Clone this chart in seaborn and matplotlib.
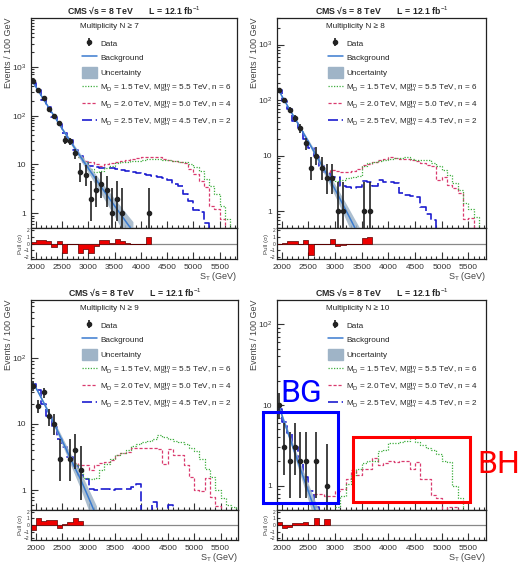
import numpy as np
import matplotlib
matplotlib.use("Agg")
import matplotlib.pyplot as plt
from matplotlib.lines import Line2D
from matplotlib.patches import Patch, Rectangle
from matplotlib.ticker import FixedLocator, FuncFormatter, MultipleLocator, LogLocator, NullFormatter
import seaborn as sns

sns.set_theme(style="ticks")
plt.rcParams["font.family"] = ["Liberation Sans", "DejaVu Sans"]
plt.rcParams["mathtext.fontset"] = "custom"
plt.rcParams["mathtext.rm"] = "Liberation Sans"
plt.rcParams["mathtext.it"] = "Liberation Sans:italic"
plt.rcParams["mathtext.bf"] = "Liberation Sans:bold"

# ---------------- data (100 GeV bins, values at bin centres) ----------------
# N >= 7
data7_x = [1950, 2050, 2150, 2250, 2350, 2450, 2550, 2650, 2750, 2850, 2950,
           3050, 3150, 3250, 3350, 3450, 3550, 3650, 4150]
data7_y = [520, 340, 225, 140, 97, 70, 32, 30, 17, 7, 6, 2, 3, 4, 3, 1, 2, 1, 1]
bkg7 = [480, 320, 215, 145, 98, 66, 45, 31, 21, 14.5, 10, 7, 4.9, 3.4, 2.4,
        1.7, 1.2, 0.85, 0.6, 0.43]
unc7 = [0.03, 0.03, 0.03, 0.04, 0.05, 0.06, 0.08, 0.1, 0.12, 0.15, 0.18, 0.21,
        0.25, 0.29, 0.33, 0.37, 0.42, 0.47, 0.52, 0.57]
pull7_x = [1950, 2050, 2150, 2250, 2350, 2450, 2550, 2650, 2750, 2850, 2950,
           3050, 3150, 3250, 3350, 3450, 3550, 3650, 3750, 3850, 3950, 4050,
           4150]
pull7 = [0.15, 0.45, 0.45, 0.3, -0.5, 0.3, -1.45, -0.05, -0.1, -1.35, -0.8,
         -1.35, -0.3, 0.45, 0.45, 0.1, 0.7, 0.3, 0.05, 0, 0, 0, 0.97]
green7 = (2850, [14.5, 11, 8, 7, 7.5, 8.5, 9.5, 10.5, 11, 11.5, 12, 12, 12.5, 13,
                 13, 13, 12.5, 12.5, 12, 11.5, 11, 10, 9, 7.5, 5, 3.6, 2.5, 1.4,
                 0.75, 0])
magenta7 = (2850, [14.5, 12, 11, 10, 9.5, 10, 10.5, 11.5, 12, 12.5, 13, 13.5,
                   14, 14.5, 14, 14, 13, 12.5, 12, 11.5, 10.5, 8, 6.5, 4.5, 3.5,
                   1.4, 1.2, 0.75, 0])
blue7 = (1950, [470, 330, 210, 150, 95, 68, 44, 32, 20, 15, 11, 9.5, 8.8, 8.5,
                8.3, 8.5, 8.0, 7.8, 7.5, 7.0, 6.7, 6.5, 6.2, 5.9, 5.6, 5.2, 4.9,
                4.0, 3.6, 2.5, 1.8, 1.15, 1.05, 0.62, 0.3, 0])

# N >= 8
data8_x = [1950, 2050, 2150, 2250, 2350, 2450, 2550, 2650, 2750, 2850, 2950,
           3050, 3150, 3550, 3650]
data8_y = [150, 100, 67, 47, 31, 17, 6, 10, 6, 4, 4, 1, 1, 1, 1]
bkg8 = [145, 98, 67, 46, 31.5, 21.5, 14.6, 9.9, 6.7, 4.5, 3.0, 2.0, 1.3, 0.85,
        0.55, 0.36]
unc8 = [0.03, 0.03, 0.04, 0.05, 0.06, 0.08, 0.1, 0.12, 0.15, 0.18, 0.22, 0.26,
        0.3, 0.35, 0.4, 0.45]
pull8_x = [1950, 2050, 2150, 2250, 2350, 2450, 2550, 2650, 2750, 2850, 2950,
           3050, 3150, 3250, 3350, 3450, 3550, 3650]
pull8 = [-0.1, 0.1, 0.3, 0.3, 0.0, 0.5, -1.7, -0.1, -0.1, -0.1, 0.6, -0.4,
         -0.2, 0, 0, 0, 0.8, 1.0]
green8 = (2950, [3.7, 3.5, 3.7, 3.9, 4.1, 4.3, 6.4, 7.3, 7.6, 7.9, 8.5, 8.8, 9,
                 9.2, 9.3, 8.8, 8.4, 8.4, 8.2, 7.3, 6.4, 5.6, 4.5, 3.2, 2.4,
                 1.4, 1.1, 0.8, 0])
magenta8 = (2850, [5.0, 5.5, 5.2, 5, 5, 5.3, 5.8, 6.8, 7.2, 7.8, 8.4, 8.7, 9.3,
                   9, 8.7, 8.6, 8.4, 8, 7.3, 6.8, 6.4, 3.7, 4.2, 3, 2.6, 2.1,
                   0.72, 0.75, 0])
blue8 = (1950, [150, 95, 68, 42, 32, 20, 14, 10, 6.5, 5, 4.2, 4.2, 2.8, 2.7,
                2.6, 2.7, 3.5, 3.4, 2.9, 3.6, 3.4, 3.3, 3.2, 2.1, 2.0, 1.9, 1.8,
                1.2, 0.9, 0.7, 0.45, 0])

# N >= 9
data9_x = [1950, 2050, 2150, 2250, 2350, 2450, 2650, 2750, 2850]
data9_y = [38, 19, 30, 13, 10, 3, 3, 4, 2]
bkg9 = [42, 30, 21, 14.5, 10, 6.8, 4.6, 3.1, 2.1, 1.45, 0.95, 0.62, 0.4]
unc9 = [0.04, 0.05, 0.06, 0.08, 0.1, 0.12, 0.15, 0.19, 0.23, 0.28, 0.33, 0.38,
        0.44]
pull9_x = [1950, 2050, 2150, 2250, 2350, 2450, 2550, 2650, 2750, 2850]
pull9 = [-0.8, 1.0, 0.6, 0.8, 0.8, -0.5, 0.1, 0.4, 1.1, 0.6]
green9 = (2750, [2.5, 2.1, 1.5, 1.45, 1.5, 2.0, 2.5, 3.0, 3.4, 3.7, 4.0, 4.7,
                 5.0, 5.3, 5.6, 6.0, 6.7, 6.3, 6.0, 5.6, 5.3, 4.9, 4.4, 3.9,
                 3.0, 2.1, 1.6, 1.0, 0.75, 0.6, 0.55, 0])
magenta9 = (2750, [2.6, 2.4, 2.4, 2.0, 2.4, 2.6, 2.7, 2.9, 3.4, 3.6, 3.8, 4.3,
                   4.3, 4.3, 4.4, 4.3, 4.2, 2.5, 4.2, 3.4, 3.4, 2.4, 1.6, 1.0,
                   0.96, 1.5, 0.78, 0.57, 0.4, 0])
blue9 = (1950, [40, 33, 20, 13, 9, 6, 4.5, 3.2, 2.3, 1.7, 1.45, 1.05, 1.0,
                1.05, 1.05, 1.0, 1.05, 1.05, 1.05, 1.1, 1.25, 0.3, 0.3, 0.65,
                0.3, 0.3, 0.6, 0])

# N >= 10
data10_x = [1950, 2050, 2150, 2250, 2350, 2450, 2650, 2850]
data10_y = [10, 3, 2, 3, 2, 2, 2, 1]
bkg10 = [9.5, 6.0, 3.9, 2.5, 1.6, 1.05, 0.68, 0.45, 0.3]
unc10 = [0.05, 0.07, 0.1, 0.13, 0.17, 0.21, 0.26, 0.31, 0.36]
pull10_x = [1950, 2050, 2150, 2250, 2350, 2450, 2550, 2650, 2750, 2850]
pull10 = [0.5, -0.5, -0.3, 0.3, 0.3, 0.5, 0, 1.1, 0, 0.9]
green10 = (3050, [0.55, 0.75, 1.05, 1.35, 1.6, 1.9, 2.0, 2.0, 2.7, 2.8, 3.4,
                  3.4, 3.5, 3.6, 4.0, 3.5, 3.2, 2.9, 2.8, 2.5, 2.0, 1.95, 1.0,
                  0.7, 0])
magenta10 = (2650, [0.8, 0.8, 0.75, 0.75, 0.85, 0.9, 1.2, 1.55, 1.35, 1.6, 1.6,
                    2.2, 1.8, 1.9, 2.0, 1.95, 2.0, 2.0, 1.6, 1.95, 1.2, 1.2,
                    0.76, 0.7, 0.4, 0.55, 0.55, 0])
blue10 = (1950, [9, 6.2, 4.5, 3.0, 2.0, 1.3, 0.85, 0.55, 0.45, 0])

multiplicity = ["7", "8", "9", "10"]
y_limits = [(0.5, 1e4), (0.5, 3000), (0.5, 750), (0.5, 200)]
x_limits = (1910, 5830)
signal_labels = [
    r"M$_\mathrm{D}$ = 1.5 TeV, M$_\mathrm{BH}^\mathrm{min}$ = 5.5 TeV, n = 6",
    r"M$_\mathrm{D}$ = 2.0 TeV, M$_\mathrm{BH}^\mathrm{min}$ = 5.0 TeV, n = 4",
    r"M$_\mathrm{D}$ = 2.5 TeV, M$_\mathrm{BH}^\mathrm{min}$ = 4.5 TeV, n = 2",
]

# 68% Poisson intervals for small counts
garwood = {1: (0.173, 3.300), 2: (0.708, 4.638), 3: (1.367, 5.918),
           4: (2.086, 7.163), 5: (2.840, 8.382), 6: (3.620, 9.584),
           7: (4.419, 10.77), 8: (5.232, 11.95), 9: (6.057, 13.11),
           10: (6.891, 14.27)}

GREEN = "#3fae3f"
MAGENTA = "#d93a6e"
BLUE = "#1c1ccf"
BKG = "#3a7bd0"
BAND = "#9fb4c7"
TXT = "#333333"

W, H = 521, 564
fig = plt.figure(figsize=(W / 100, H / 100), dpi=100)


def box(l, t, r, b):
    return [l / W, 1 - b / H, (r - l) / W, (b - t) / H]


def poisson_err(vals):
    lo, hi = [], []
    for v in vals:
        if v <= 10 and round(v) in garwood:
            a, b = garwood[round(v)]
        else:
            a, b = v - np.sqrt(v), v + np.sqrt(v)
        lo.append(v - a)
        hi.append(b - v)
    return [lo, hi]


def step_hist(ax, start, vals, **kw):
    x = start + 100 * np.arange(len(vals))
    e = np.append(x - 50, x[-1] + 50).tolist()
    sns.histplot(x=x, weights=vals, bins=e, element="step", fill=False, ax=ax, **kw)


def yfmt(v, pos):
    if v == 1:
        return "1"
    if v == 10:
        return "10"
    return r"10$^{%d}$" % round(np.log10(v))


def draw_panel(main_box, pull_box, idx, dx, dy, bkg, unc, px, pull, green, magenta, blue):
    ax = fig.add_axes(box(*main_box))
    axp = fig.add_axes(box(*pull_box), sharex=ax)
    height = main_box[3] - main_box[1]
    width = main_box[2] - main_box[0]

    # signal + background histograms
    step_hist(ax, *blue, color=BLUE, lw=1.2, linestyle=(0, (6, 2.2)))
    step_hist(ax, *magenta, color=MAGENTA, lw=0.9, linestyle=(0, (2.5, 1.5)))
    step_hist(ax, *green, color=GREEN, lw=0.9, linestyle=(0, (1, 1.2)))

    bx = 1950 + 100 * np.arange(len(bkg))
    b = np.array(bkg)
    u = np.array(unc)
    ax.fill_between(bx, b * (1 - u), b * (1 + u), color=BAND, alpha=0.85, lw=0, zorder=3)
    sns.lineplot(x=bx, y=b, ax=ax, color=BKG, lw=1.1, zorder=4)

    eb = ax.errorbar(dx, dy, yerr=poisson_err(dy), fmt="o", color="#222222", ms=3,
                     elinewidth=1.2, capsize=0, zorder=5)

    ax.set_yscale("log")
    ax.set_xlim(*x_limits)
    ax.set_ylim(*y_limits[idx])
    ax.yaxis.set_major_locator(FixedLocator([1, 10, 100, 1000]))
    ax.yaxis.set_major_formatter(FuncFormatter(yfmt))
    ax.yaxis.set_minor_locator(LogLocator(base=10, subs=np.arange(2, 10)))
    ax.yaxis.set_minor_formatter(NullFormatter())
    ax.xaxis.set_major_locator(FixedLocator(np.arange(2000, 5600, 500)))
    ax.xaxis.set_minor_locator(MultipleLocator(100))
    ax.tick_params(which="both", direction="in", labelsize=6, colors=TXT, width=0.8)
    ax.tick_params(which="major", length=5)
    ax.tick_params(which="minor", length=2.5)
    ax.tick_params(axis="x", labelbottom=False)
    ax.set_xlabel("")
    ax.set_ylabel("Events / 100 GeV", fontsize=6.5, color="#444444", loc="top", labelpad=-1)
    ax.set_title("CMS \u221as = 8 TeV       L = 12.1 fb$^{-1}$", fontsize=6.3,
                 fontweight="bold", pad=3)
    for s in ax.spines.values():
        s.set_linewidth(0.9)
        s.set_color("#222222")

    # legend: header line, then entries
    ax.text(49 / width, 1 - 8 / height, "Multiplicity N \u2265 " + multiplicity[idx],
            transform=ax.transAxes, fontsize=5.9, va="center", ha="left", color="#222222")
    handles = [
        eb,
        Line2D([], [], color=BKG, lw=1.1),
        Patch(color=BAND),
        Line2D([], [], color=GREEN, lw=0.9, linestyle=(0, (1, 1.2))),
        Line2D([], [], color=MAGENTA, lw=0.9, linestyle=(0, (2.5, 1.5))),
        Line2D([], [], color=BLUE, lw=1.2, linestyle=(0, (6, 2.2))),
    ]
    labels = ["Data", "Background", "Uncertainty"] + signal_labels
    ax.legend(handles, labels, loc="upper left",
              bbox_to_anchor=(51 / width, 1 - 19.5 / height), frameon=False,
              fontsize=5.9, handlelength=1.8, handleheight=1.7,
              handletextpad=0.45, labelspacing=0.45, borderaxespad=0,
              borderpad=0)

    # pull panel
    ppx = np.array(px)
    pe = np.append(ppx - 50, ppx[-1] + 50).tolist()
    sns.histplot(x=ppx, weights=pull, bins=pe, element="step", fill=True, ax=axp,
                 color="#ee0000", alpha=1, edgecolor="#5a0000", linewidth=0.5)
    axp.axhline(0, color="#888888", lw=0.9, zorder=0)
    axp.set_ylim(-2.3, 2.3)
    axp.set_xlim(*x_limits)
    axp.yaxis.set_major_locator(FixedLocator([-2, -1, 0, 1, 2]))
    axp.tick_params(which="both", direction="in", colors=TXT, width=0.8)
    axp.tick_params(axis="y", labelsize=3.5, length=2.5, pad=1)
    axp.tick_params(axis="x", which="major", labelsize=6, length=5)
    axp.tick_params(axis="x", which="minor", length=2.5)
    axp.set_ylabel("Pull (\u03c3)", fontsize=4.5, color="#444444", labelpad=1)
    axp.set_xlabel("S$_\\mathrm{T}$ (GeV)", fontsize=6.5, color="#444444", loc="right", labelpad=-0.5)
    for s in axp.spines.values():
        s.set_linewidth(0.9)
        s.set_color("#222222")
    return ax, axp


draw_panel((31, 18, 237, 228), (31, 228, 237, 259), 0, data7_x, data7_y, bkg7,
           unc7, pull7_x, pull7, green7, magenta7, blue7)
draw_panel((277, 18, 486, 228), (277, 228, 486, 259), 1, data8_x, data8_y, bkg8,
           unc8, pull8_x, pull8, green8, magenta8, blue8)
draw_panel((31, 300, 238, 510), (31, 510, 238, 540), 2, data9_x, data9_y, bkg9,
           unc9, pull9_x, pull9, green9, magenta9, blue9)
draw_panel((277, 300, 486, 510), (277, 510, 486, 540), 3, data10_x, data10_y,
           bkg10, unc10, pull10_x, pull10, green10, magenta10, blue10)

# annotation boxes on the N >= 10 panel
fig.add_artist(Rectangle((263 / W, 1 - 503 / H), 75 / W, 91 / H, fill=False,
                         edgecolor="#0000ff", lw=2.2, transform=fig.transFigure))
fig.add_artist(Rectangle((353 / W, 1 - 502 / H), 117 / W, 65 / H, fill=False,
                         edgecolor="#ff0000", lw=2.2, transform=fig.transFigure))
fig.text(280 / W, 1 - 402 / H, "BG", color="#0000ff", fontsize=23,
         family="Roboto", va="baseline", ha="left")
fig.text(477 / W, 1 - 473 / H, "BH", color="#ff0000", fontsize=23,
         family="Roboto", va="baseline", ha="left")

fig.savefig("out.png", dpi=100)
